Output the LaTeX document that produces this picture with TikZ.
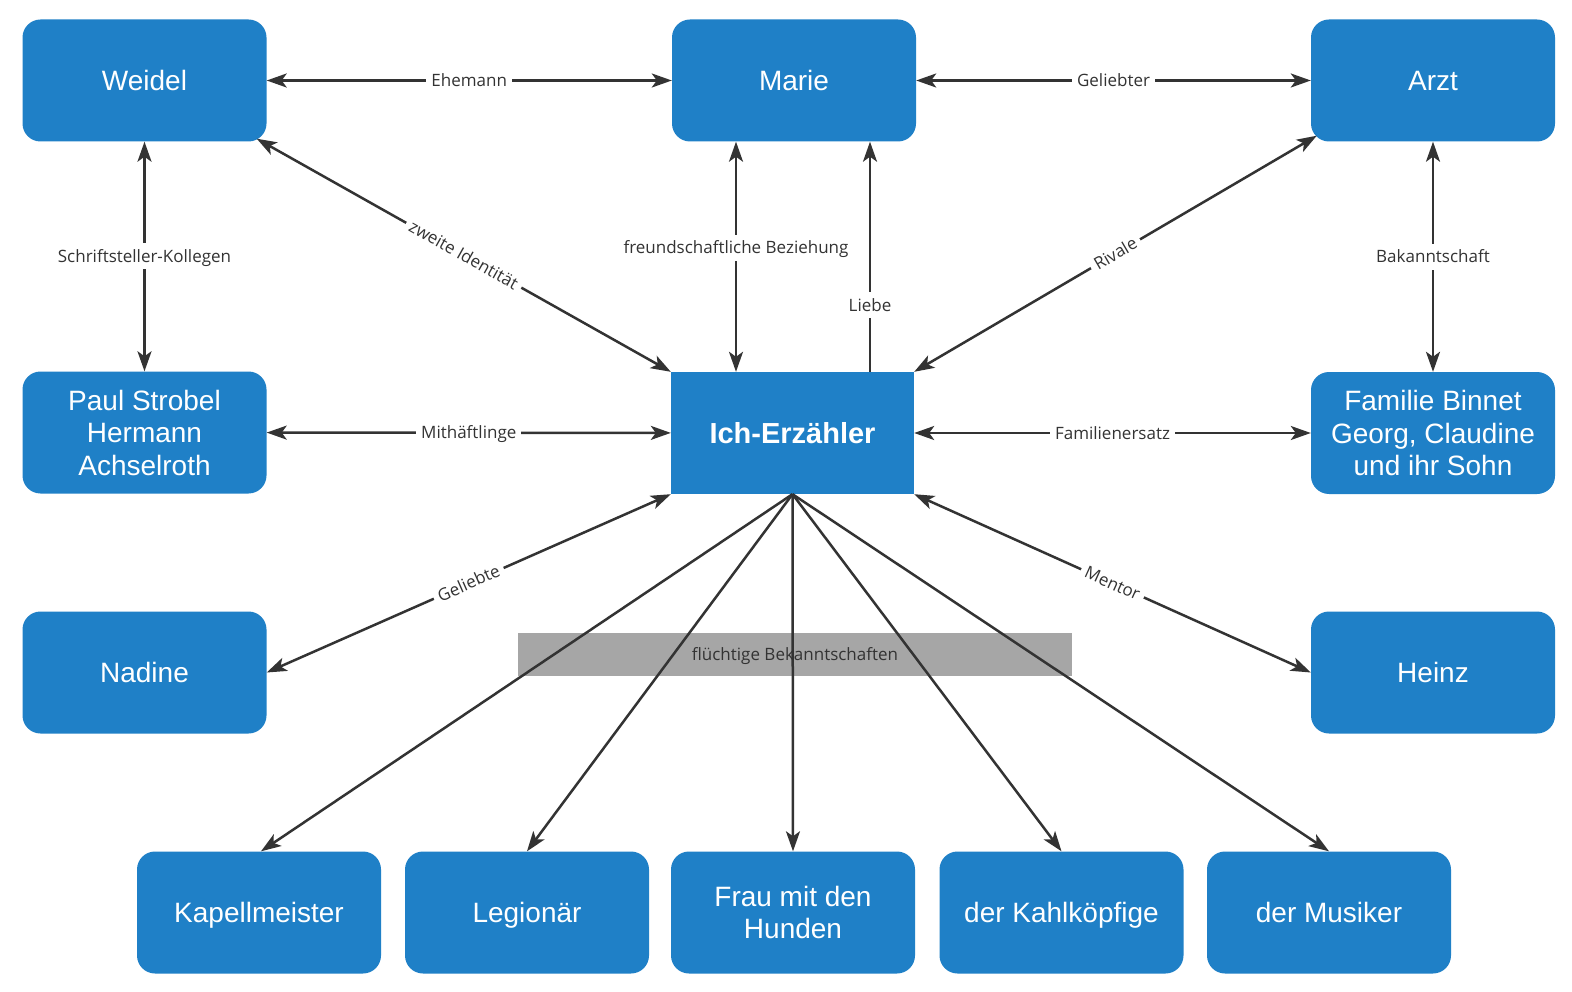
\documentclass[tikz,border=0pt]{standalone}
\usepackage{fontspec}
\setmainfont{Liberation Sans}
\newfontfamily\osans{Open Sans}
\usetikzlibrary{arrows.meta,calc}
\definecolor{boxblue}{RGB}{31,128,199}
\definecolor{linec}{RGB}{51,51,51}
\definecolor{greyband}{RGB}{166,166,166}
\begin{document}
\begin{tikzpicture}[x=1pt,y=-1pt,
  >={Stealth[length=20pt,width=14pt,inset=5pt]},
  box/.style={draw=none, fill=boxblue, text=white, rounded corners=18pt,
    minimum width=244pt, minimum height=122pt, inner sep=0pt, align=center,
    font=\fontsize{28}{32.5}\selectfont},
  oneline/.style={text height=25pt, text depth=5pt},
  centerbox/.style={box, rounded corners=0pt, minimum width=243pt,
    text height=26pt, text depth=5pt,
    font=\bfseries\fontsize{29}{33}\selectfont},
  band/.style={fill=greyband, text=linec, minimum width=554pt, minimum height=43pt,
    inner sep=0pt, text height=16pt, text depth=4pt,
    font=\osans\fontsize{17}{20}\selectfont},
  lbl/.style={fill=white, text=linec, inner ysep=3pt, inner xsep=5pt,
    text height=16pt, text depth=4pt,
    font=\osans\fontsize{17}{20}\selectfont},
  biarr/.style={draw=linec, line width=2.5pt, <->},
  uniarr/.style={draw=linec, line width=2.5pt, ->}]
\useasboundingbox (0,0) rectangle (1572,992);
\fill[white] (0,0) rectangle (1572,992);

% grey band
\node[band] (band) at (795,654.5) {flüchtige Bekanntschaften};

% nodes
\node[box,oneline] (weidel) at (144.5,80.5) {Weidel};
\node[box,oneline] (marie) at (794,80.5) {Marie};
\node[box,oneline] (arzt) at (1433,80.5) {Arzt};
\node[box] (paul) at (144.5,432.5) {Paul Strobel\\Hermann\\Achselroth};
\node[centerbox] (ich) at (792.5,433) {Ich-Erzähler};
\node[box] (familie) at (1433,433) {Familie Binnet\\Georg, Claudine\\und ihr Sohn};
\node[box,oneline] (nadine) at (144.5,672.5) {Nadine};
\node[box,oneline] (heinz) at (1433,672.5) {Heinz};
\node[box,oneline] (kapell) at (259,912.5) {Kapellmeister};
\node[box,oneline] (legion) at (527,912.5) {Legionär};
\node[box] (frau) at (793,912.5) {Frau mit den\\Hunden};
\node[box,oneline] (kahl) at (1061.5,912.5) {der Kahlköpfige};
\node[box,oneline] (musiker) at (1329,912.5) {der Musiker};

% connectors
\draw[biarr] (weidel) -- node[lbl]{Ehemann} (marie);
\draw[biarr] (marie) -- node[lbl]{Geliebter} (arzt);
\draw[biarr] (weidel) -- node[lbl]{Schriftsteller-Kollegen} (paul);
\draw[biarr] (arzt) -- node[lbl]{Bakanntschaft} (familie);
\draw[biarr] ($(weidel.south east)+(-10,-3)$) -- node[lbl,sloped]{zweite Identität} (ich.north west);
\draw[biarr] ($(marie.south)+(-58,0)$) -- node[lbl,pos=0.46]{freundschaftliche Beziehung} ($(ich.north)+(-56.5,0)$);
\draw[uniarr] ($(ich.north)+(77.5,0)$) -- node[lbl,pos=0.29]{Liebe} ($(marie.south)+(76,0)$);
\draw[biarr] ($(arzt.south west)+(6,-6)$) -- node[lbl,sloped]{Rivale} (ich.north east);
\draw[biarr] (paul) -- node[lbl]{Mithäftlinge} (ich);
\draw[biarr] (ich) -- node[lbl]{Familienersatz} (familie);
\draw[biarr] (ich.south west) -- node[lbl,sloped]{Geliebte} (nadine.east);
\draw[biarr] (ich.south east) -- node[lbl,sloped]{Mentor} (heinz.west);
\draw[uniarr] (ich.south) -- ($(kapell.north)+(2,0)$);
\draw[uniarr] (ich.south) -- (legion.north);
\draw[uniarr] (ich.south) -- (frau.north);
\draw[uniarr] (ich.south) -- (kahl.north);
\draw[uniarr] (ich.south) -- (musiker.north);
\end{tikzpicture}
\end{document}
